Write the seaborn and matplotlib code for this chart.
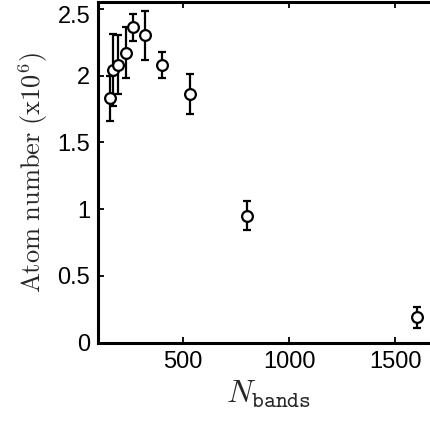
import numpy as np
import pandas as pd
import seaborn as sb
import matplotlib.pyplot as plt
from matplotlib.transforms import ScaledTranslation

# values
n_bands = [154, 170, 193, 228, 261, 319, 401, 532, 799, 1601]
atoms = [1.83, 2.04, 2.08, 2.17, 2.36, 2.30, 2.08, 1.86, 0.95, 0.19]
atoms_err = [0.17, 0.27, 0.22, 0.19, 0.10, 0.18, 0.10, 0.15, 0.11, 0.08]

df = pd.DataFrame({'N': n_bands, 'atoms': atoms, 'err': atoms_err})

sb.set_theme(style="ticks")
plt.rcParams['font.family'] = ['Liberation Sans', 'DejaVu Sans']
plt.rcParams['mathtext.fontset'] = 'cm'

fig = plt.figure(figsize=(4.3, 4.21), dpi=100)
ax = fig.add_axes([0.229, 0.186, 0.789, 0.809])

ax.errorbar(df['N'], df['atoms'], yerr=df['err'], fmt='none', ecolor='black',
            elinewidth=1.6, capsize=3, capthick=1.6, zorder=2)
sb.scatterplot(data=df, x='N', y='atoms', ax=ax, marker='o', s=60,
               facecolor='white', edgecolor='black', linewidth=1.6, zorder=3)

ax.set_xlim(100, 1700)
ax.set_ylim(0, 2.55)
ax.set_xticks([500, 1000, 1500])
ax.set_yticks([0, 0.5, 1, 1.5, 2, 2.5])
ax.set_yticklabels(['0', '0.5', '1', '1.5', '2', '2.5'])
ax.tick_params(direction='in', length=4, width=1.3, labelsize=17, colors='black',
               top=True, right=False, pad=6)

# keep the top label inside the figure, as in the original
top_lab = ax.get_yticklabels()[-1]
top_lab.set_transform(top_lab.get_transform() + ScaledTranslation(0, -4 / 72, fig.dpi_scale_trans))

for side in ['left', 'bottom', 'top']:
    ax.spines[side].set_linewidth(2.2)
    ax.spines[side].set_color('black')
ax.spines['right'].set_visible(False)

ax.set_xlabel(r'$N_{\mathtt{bands}}$', fontsize=23, labelpad=4)
ax.set_ylabel(r'$\mathrm{Atom\ number\ (x10^{6})}$', fontsize=19, labelpad=5)

fig.savefig('out.png', dpi=100)
